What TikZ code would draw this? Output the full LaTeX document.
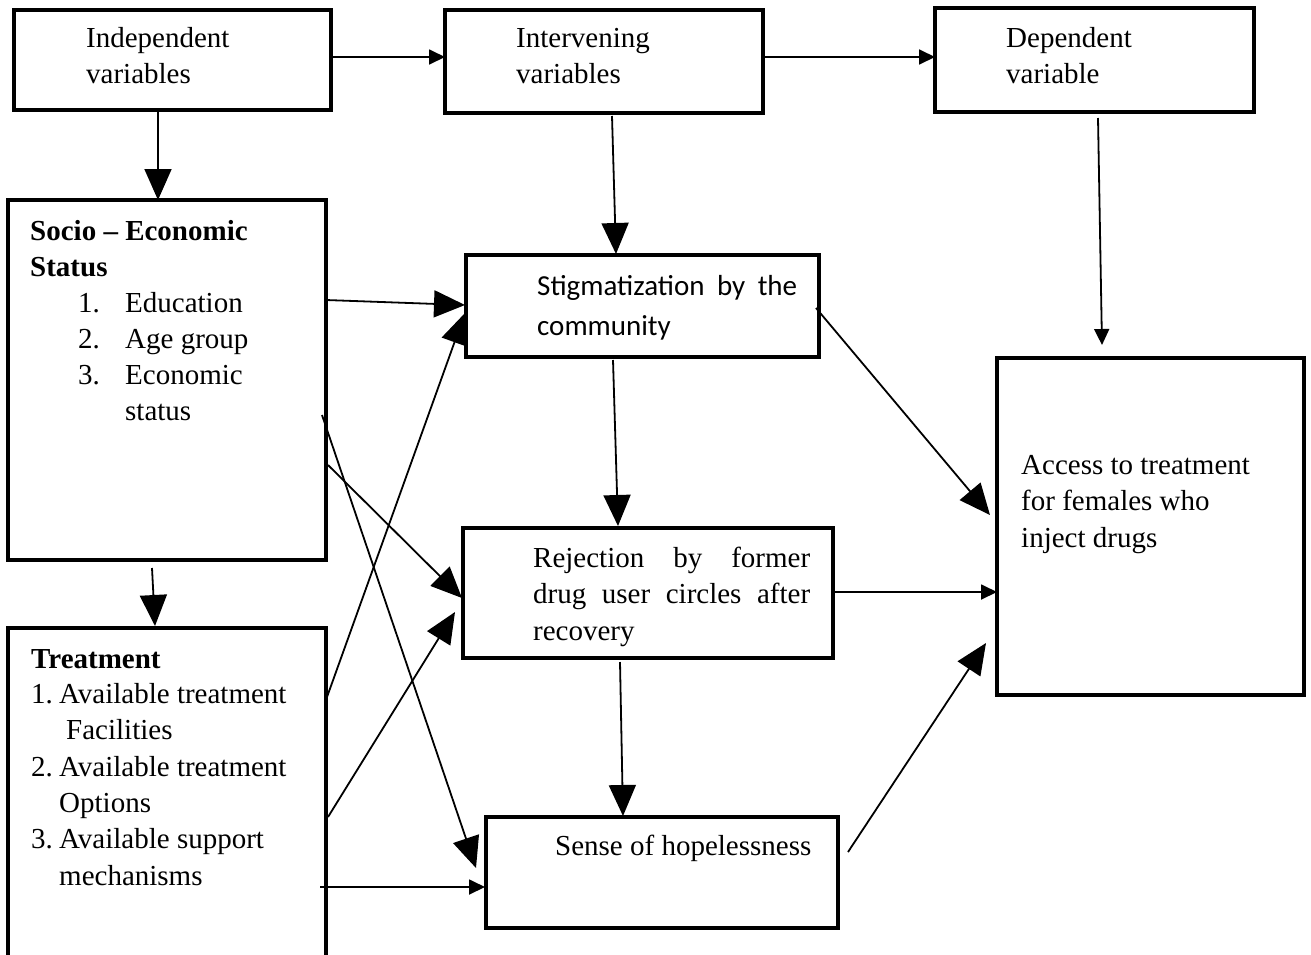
\documentclass[tikz,border=0pt]{standalone}
\usepackage{fontspec}
\setmainfont{Liberation Serif}
\newfontfamily\calfont{Carlito}
\usetikzlibrary{arrows.meta}
\begin{document}
\begin{tikzpicture}[x=1pt,y=-1pt,
  box/.style={draw, line width=3.5pt, inner sep=0pt, outer sep=0pt, anchor=north west},
  arr/.style={line width=1.8pt, -{Triangle[width=27pt,length=31pt]}},
  sarr/.style={line width=1.8pt, -{Triangle[width=15pt,length=16pt]}},
  txt/.style={anchor=base west, inner sep=0pt, font=\fontsize{29}{36}\selectfont},
  ctxt/.style={anchor=base west, inner sep=0pt, font=\calfont\fontsize{29}{36}\selectfont}]
\clip (0,0) rectangle (1311,954);
\fill[white] (0,0) rectangle (1311,954);

% boxes
\node[box, minimum width=317pt, minimum height=100pt] (indep) at (14,10) {};
\node[box, minimum width=318pt, minimum height=103pt] (interv) at (445,10) {};
\node[box, minimum width=319pt, minimum height=104pt] (dep) at (935,8) {};
\node[box, minimum width=318pt, minimum height=360pt] (socio) at (8,200) {};
\node[box, minimum width=318pt, minimum height=360pt] (treat) at (8,628) {};
\node[box, minimum width=353pt, minimum height=102pt] (stig) at (466,255) {};
\node[box, minimum width=370pt, minimum height=130pt] (rej) at (463,528) {};
\node[box, minimum width=352pt, minimum height=111pt] (sense) at (486,817) {};
\node[box, minimum width=307pt, minimum height=337pt] (access) at (997,358) {};

% texts
\node[txt] (t1) at (86,47) {Independent};
\node[txt] (t2) at (86,83) {variables};
\node[txt] (t3) at (516,47) {Intervening};
\node[txt] (t4) at (516,83) {variables};
\node[txt] (t5) at (1006,47) {Dependent};
\node[txt] (t6) at (1006,83) {variable};

\node[txt, font=\bfseries\fontsize{29}{36}\selectfont] (s1) at (30,240) {Socio – Economic};
\node[txt, font=\bfseries\fontsize{29}{36}\selectfont] (s2) at (30,276) {Status};
\node[txt] (s3n) at (78,312) {1.};
\node[txt] (s3) at (125,312) {Education};
\node[txt] (s4n) at (78,348) {2.};
\node[txt] (s4) at (125,348) {Age group};
\node[txt] (s5n) at (78,384) {3.};
\node[txt] (s5) at (125,384) {Economic};
\node[txt] (s6) at (125,420) {status};

\node[txt, font=\bfseries\fontsize{29}{36}\selectfont] (r1) at (31,668) {Treatment};
\node[txt] (r2n) at (31,703) {1.};
\node[txt] (r2) at (59,703) {Available treatment};
\node[txt] (r3) at (66,739) {Facilities};
\node[txt] (r4n) at (31,776) {2.};
\node[txt] (r4) at (59,776) {Available treatment};
\node[txt] (r5) at (59,812) {Options};
\node[txt] (r6n) at (31,848) {3.};
\node[txt] (r6) at (59,848) {Available support};
\node[txt] (r7) at (59,885) {mechanisms};

\node[ctxt] (g1) at (537,295) {\makebox[260pt][s]{Stigmatization by the}};
\node[ctxt] (g2) at (537,335) {community};

\node[txt] (j1) at (533,567) {\makebox[277pt][s]{Rejection by former}};
\node[txt] (j2) at (533,603) {\makebox[277pt][s]{drug user circles after}};
\node[txt] (j3) at (533,640) {recovery};

\node[txt] (h1) at (555,855) {Sense of hopelessness};

\node[txt] (a1) at (1021,474) {Access to treatment};
\node[txt] (a2) at (1021,510) {for females who};
\node[txt] (a3) at (1021,547) {inject drugs};

% connector end points
\coordinate (p3a) at (158,112);  \coordinate (p3b) at (158,200);
\coordinate (p4a) at (152,568);  \coordinate (p4b) at (155,626);
\coordinate (p5a) at (612,116);  \coordinate (p5b) at (616,254);
\coordinate (p6a) at (1098,118); \coordinate (p6b) at (1102,345);
\coordinate (p7a) at (613,360);  \coordinate (p7b) at (618,526);
\coordinate (p8a) at (620,662);  \coordinate (p8b) at (623,816);
\coordinate (p9a) at (326,300);  \coordinate (p9b) at (465,305);
\coordinate (p10a) at (327,697); \coordinate (p10b) at (465,313);
\coordinate (p11a) at (322,415); \coordinate (p11b) at (476,868);
\coordinate (p12a) at (328,465); \coordinate (p12b) at (462,598);
\coordinate (p13a) at (328,817); \coordinate (p13b) at (455,612);
\coordinate (p14a) at (320,887); \coordinate (p14b) at (485,887);
\coordinate (p15a) at (816,308); \coordinate (p15b) at (990,515);
\coordinate (p16a) at (833,592); \coordinate (p16b) at (997,592);
\coordinate (p17a) at (848,852); \coordinate (p17b) at (986,643);

% connectors
\draw[sarr] (indep.east |- 0,57) -- (interv.west |- 0,57);
\draw[sarr] (interv.east |- 0,57) -- (dep.west |- 0,57);
\draw[arr] (p3a) -- (p3b);
\draw[arr] (p4a) -- (p4b);
\draw[arr] (p5a) -- (p5b);
\draw[sarr] (p6a) -- (p6b);
\draw[arr] (p7a) -- (p7b);
\draw[arr] (p8a) -- (p8b);
\draw[arr] (p9a) -- (p9b);
\draw[arr] (p10a) -- (p10b);
\draw[arr] (p11a) -- (p11b);
\draw[arr] (p12a) -- (p12b);
\draw[arr] (p13a) -- (p13b);
\draw[sarr] (p14a) -- (p14b);
\draw[arr] (p15a) -- (p15b);
\draw[sarr] (p16a) -- (p16b);
\draw[arr] (p17a) -- (p17b);
\end{tikzpicture}
\end{document}
